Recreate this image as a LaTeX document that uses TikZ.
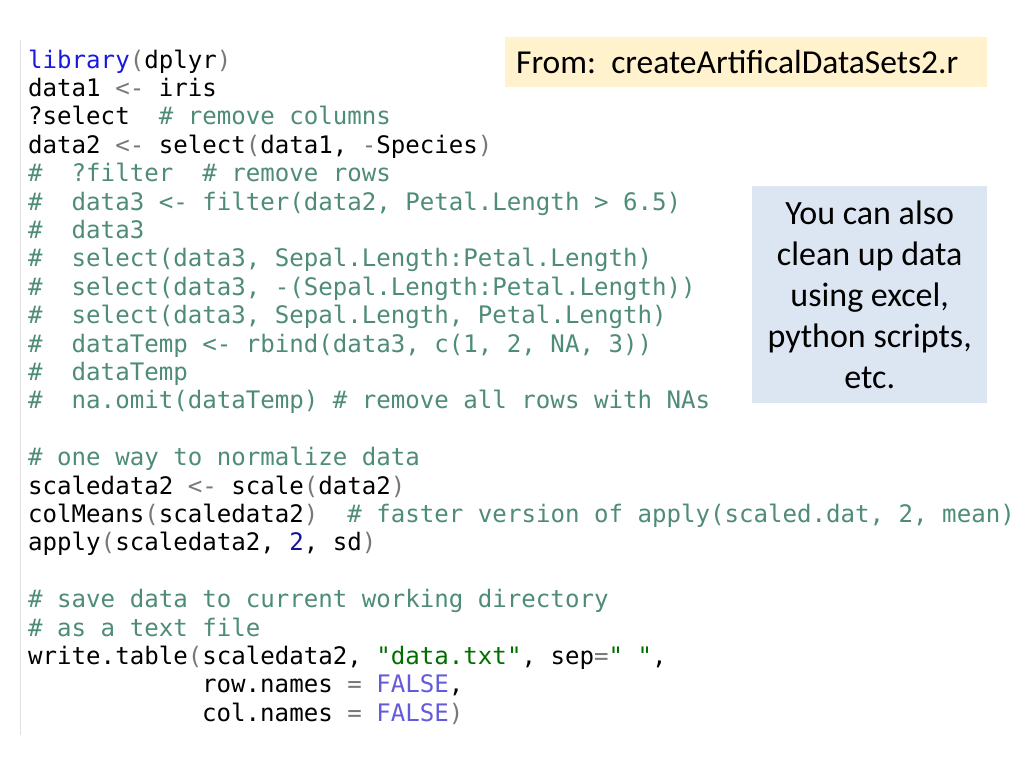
\documentclass[tikz,border=0pt]{standalone}
\usepackage{fontspec}
\newfontfamily\codefont{DejaVu Sans Mono}
\newfontfamily\calfont{Carlito}
\definecolor{cmt}{RGB}{78,140,120}
\definecolor{par}{RGB}{120,120,120}
\definecolor{kw}{RGB}{25,25,225}
\definecolor{num}{RGB}{20,20,150}
\definecolor{str}{RGB}{0,110,0}
\definecolor{lg}{RGB}{100,90,220}
\definecolor{fromfill}{RGB}{255,242,204}
\definecolor{notefill}{RGB}{220,230,242}
\newcommand\Cm[1]{\textcolor{cmt}{#1}}
\newcommand\PaL{\textcolor{par}{(}}
\newcommand\PaR{\textcolor{par}{)}}
\begin{document}
\begin{tikzpicture}[x=1pt,y=-1pt,
  code/.style={anchor=base west,inner sep=0pt,font=\codefont\fontsize{24.1}{28}\selectfont},
  box/.style={inner sep=0pt,font=\calfont\fontsize{34}{41}\selectfont,align=center}]
\useasboundingbox (0,0) rectangle (1024,768);
\fill[white] (0,0) rectangle (1024,768);
\draw[black!12,line width=1pt] (20,40) -- (20,735);
\def\ly#1{68+28.4*#1}
\node[code] (l0) at (28,{\ly{0}}) {\textcolor{kw}{library}\PaL dplyr\PaR};
\node[code] (l1) at (28,{\ly{1}}) {data1~\textcolor{par}{<-}~iris};
\node[code] (l2) at (28,{\ly{2}}) {?select~~\Cm{\#~remove~columns}};
\node[code] (l3) at (28,{\ly{3}}) {data2~\textcolor{par}{<-}~select\PaL data1,~\textcolor{par}{-}Species\PaR};
\node[code] (l4) at (28,{\ly{4}}) {\Cm{\#~~?filter~~\#~remove~rows}};
\node[code] (l5) at (28,{\ly{5}}) {\Cm{\#~~data3~<-~filter(data2,~Petal.Length~>~6.5)}};
\node[code] (l6) at (28,{\ly{6}}) {\Cm{\#~~data3}};
\node[code] (l7) at (28,{\ly{7}}) {\Cm{\#~~select(data3,~Sepal.Length:Petal.Length)}};
\node[code] (l8) at (28,{\ly{8}}) {\Cm{\#~~select(data3,~-(Sepal.Length:Petal.Length))}};
\node[code] (l9) at (28,{\ly{9}}) {\Cm{\#~~select(data3,~Sepal.Length,~Petal.Length)}};
\node[code] (l10) at (28,{\ly{10}}) {\Cm{\#~~dataTemp~<-~rbind(data3,~c(1,~2,~NA,~3))}};
\node[code] (l11) at (28,{\ly{11}}) {\Cm{\#~~dataTemp}};
\node[code] (l12) at (28,{\ly{12}}) {\Cm{\#~~na.omit(dataTemp)~\#~remove~all~rows~with~NAs}};
\node[code] (l14) at (28,{\ly{14}}) {\Cm{\#~one~way~to~normalize~data}};
\node[code] (l15) at (28,{\ly{15}}) {scaledata2~\textcolor{par}{<-}~scale\PaL data2\PaR};
\node[code] (l16) at (28,{\ly{16}}) {colMeans\PaL scaledata2\PaR~~\Cm{\#~faster~version~of~apply(scaled.dat,~2,~mean)}};
\node[code] (l17) at (28,{\ly{17}}) {apply\PaL scaledata2,~\textcolor{num}{2},~sd\PaR};
\node[code] (l19) at (28,{\ly{19}}) {\Cm{\#~save~data~to~current~working~directory}};
\node[code] (l20) at (28,{\ly{20}}) {\Cm{\#~as~a~text~file}};
\node[code] (l21) at (28,{\ly{21}}) {write.table\PaL scaledata2,~\textcolor{str}{"data.txt"},~sep\textcolor{par}{=}\textcolor{str}{"~"},};
\node[code] (l22) at (202,{\ly{22}}) {row.names~\textcolor{par}{=}~\textcolor{lg}{FALSE},};
\node[code] (l23) at (202,{\ly{23}}) {col.names~\textcolor{par}{=}~\textcolor{lg}{FALSE}\PaR};
\node[fill=fromfill,minimum width=482pt,minimum height=50pt,anchor=north west,inner sep=0pt] (from) at (505,37) {};
\node[anchor=west,inner sep=0pt,font=\calfont\fontsize{33.5}{36}\selectfont] (fromt) at (516,62) {From:~~createArtificalDataSets2.r};
\node[fill=notefill,minimum width=235pt,minimum height=217pt,anchor=north west,inner sep=0pt] (note) at (752,186) {};
\node[box] (notet) at (note.center) {You can also\\clean up data\\using excel,\\python scripts,\\etc.};
\end{tikzpicture}
\end{document}
